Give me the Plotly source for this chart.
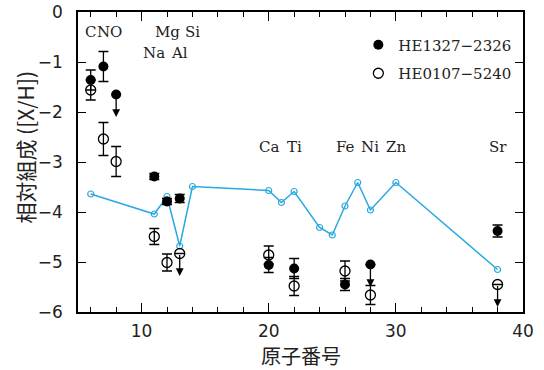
import plotly.graph_objects as go

# ---------------- data ----------------
# model curve (cyan line)
model_z = [6, 11, 12, 13, 14, 20, 21, 22, 24, 25, 26, 27, 28, 30, 38]
model_xh = [-3.64, -4.04, -3.69, -4.68, -3.49, -3.57, -3.81, -3.59, -4.31, -4.46,
            -3.88, -3.41, -3.96, -3.41, -5.15]

# HE1327-2326 (filled circles)
he1327_z = [6, 7, 8, 11, 12, 13, 20, 22, 26, 28, 38]
he1327_xh = [-1.36, -1.09, -1.65, -3.29, -3.79, -3.73, -5.06, -5.13, -5.45, -5.05, -4.38]
he1327_err = [0.20, 0.30, 0.0, 0.06, 0.06, 0.08, 0.15, 0.20, 0.12, 0.0, 0.12]
he1327_upper = [False, False, True, False, False, False, False, False, False, True, False]

# HE0107-5240 (open circles)
he0107_z = [6, 7, 8, 11, 12, 13, 20, 22, 26, 28, 38]
he0107_xh = [-1.56, -2.54, -2.99, -4.49, -5.01, -4.83, -4.86, -5.48, -5.18, -5.66, -5.45]
he0107_err = [0.20, 0.33, 0.30, 0.16, 0.17, 0.0, 0.18, 0.19, 0.20, 0.19, 0.0]
he0107_upper = [False, False, False, False, False, True, False, False, False, False, True]

# element labels
elements = ["C", "N", "O", "Na", "Mg", "Al", "Si", "Ca", "Ti", "Fe", "Ni", "Zn", "Sr"]
element_z = [6, 7, 8, 11, 12, 13, 14, 20, 22, 26, 28, 30, 38]
element_row = ["top", "top", "top", "second", "top", "second", "top",
               "mid", "mid", "mid", "mid", "mid", "mid"]

x_ticks = [10, 20, 30, 40]
y_ticks = [0, -1, -2, -3, -4, -5, -6]

# ---------------- style ----------------
ROW_Y = {"top": -0.39, "second": -0.81, "mid": -2.69}
ARROW_LEN = 0.45
CYAN = "#2aa8df"
SERIF = "DejaVu Serif"
SANS = "DejaVu Sans"
CJK = "Noto Sans CJK JP"

fig = go.Figure()

fig.add_trace(go.Scatter(
    x=model_z, y=model_xh, mode="lines+markers",
    line=dict(color=CYAN, width=1.5),
    marker=dict(symbol="circle-open", size=6, color=CYAN, line=dict(width=1.2)),
    showlegend=False, hoverinfo="skip"))

fig.add_trace(go.Scatter(
    x=he1327_z, y=he1327_xh, mode="markers", name="HE1327\u22122326",
    legendgroup="a",
    marker=dict(symbol="circle", size=10, color="black"),
    error_y=dict(type="data", array=he1327_err, visible=True,
                 color="black", thickness=1.3, width=5)))

fig.add_trace(go.Scatter(
    x=he0107_z, y=he0107_xh, mode="markers", name="HE0107\u22125240",
    legendgroup="b",
    marker=dict(symbol="circle-open", size=10, color="black", line=dict(width=1.3)),
    error_y=dict(type="data", array=he0107_err, visible=True,
                 color="black", thickness=1.3, width=5)))

annotations = []
for zs, ys, ups in [(he1327_z, he1327_xh, he1327_upper), (he0107_z, he0107_xh, he0107_upper)]:
    for z, v, u in zip(zs, ys, ups):
        if u:
            annotations.append(dict(
                x=z, y=v - ARROW_LEN, ax=z, ay=v, xref="x", yref="y",
                axref="x", ayref="y", showarrow=True, arrowhead=2,
                arrowsize=1.2, arrowwidth=1.3, arrowcolor="black", text="",
                standoff=0, startstandoff=0))

for name, z, row in zip(elements, element_z, element_row):
    annotations.append(dict(
        x=z, y=ROW_Y[row], xref="x", yref="y", text=name, showarrow=False,
        font=dict(family=SERIF, size=15, color="#222")))

annotations.append(dict(
    x=-0.12, y=0.55, xref="paper", yref="paper", text="相対組成 ([X/H])",
    textangle=-90, showarrow=False, xanchor="center", yanchor="middle",
    font=dict(family=CJK, size=21, color="#222")))
annotations.append(dict(
    x=0.5, y=-0.145, xref="paper", yref="paper", text="原子番号",
    showarrow=False, xanchor="center", yanchor="middle",
    font=dict(family=CJK, size=20, color="#222")))

axis_common = dict(
    showline=True, linecolor="black", linewidth=1.5, mirror="ticks",
    ticks="inside", tickcolor="black", tickwidth=1.3, showgrid=False,
    zeroline=False, automargin=False,
    tickfont=dict(family=SANS, size=17, color="#222"))

fig.update_layout(
    width=544, height=370,
    margin=dict(l=78, r=21, t=12, b=58, autoexpand=False),
    plot_bgcolor="white", paper_bgcolor="white",
    xaxis=dict(range=[5, 40], tickvals=x_ticks, ticklen=9,
               minor=dict(dtick=2, tick0=0, ticks="inside", ticklen=5,
                          tickcolor="black", tickwidth=1.2),
               ticklabelstandoff=3, **axis_common),
    yaxis=dict(range=[-6, 0], tickvals=y_ticks, ticklen=8,
               ticklabelstandoff=10, **axis_common),
    legend=dict(x=0.63, y=0.945, xanchor="left", yanchor="top",
                font=dict(family=SERIF, size=15, color="#222"),
                bgcolor="rgba(0,0,0,0)", itemwidth=30, tracegroupgap=6),
    annotations=annotations,
    showlegend=True,
)

fig.write_html("out.html", config={"displayModeBar": False},
               post_script="document.body.style.margin='0';")
